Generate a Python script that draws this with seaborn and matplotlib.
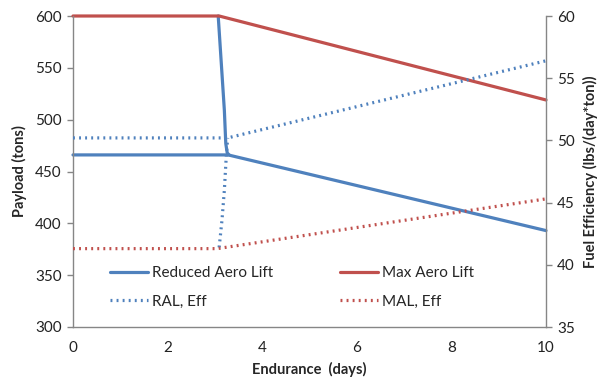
import pandas as pd
import matplotlib
matplotlib.use("Agg")
import matplotlib.pyplot as plt
import seaborn as sns

# Reduced Aero Lift payload (tons)
ral_days = [0, 3.28, 10]
ral_payload = [466, 466, 393]
ral_drop_days = [3.07, 3.14, 3.20, 3.23, 3.26, 3.30]
ral_drop_payload = [600, 551, 509, 477, 468, 466]

# Max Aero Lift payload (tons)
mal_days = [0, 3.09, 10]
mal_payload = [600, 600, 519]

# fuel efficiency (lbs/(day*ton))
ral_eff_days = [0, 3.27, 10]
ral_eff = [50.2, 50.2, 56.4]
ral_eff_rise_days = [3.09, 3.15, 3.20, 3.24, 3.27]
ral_eff_rise = [41.4, 43.6, 46.0, 48.7, 50.2]
mal_eff_days = [0, 3.05, 10]
mal_eff = [41.3, 41.3, 45.3]

blue = "#4F81BD"
red = "#C0504D"
grey = "#868686"

sns.set_style("white")
plt.rcParams['font.family'] = ['Lato', 'DejaVu Sans']

fig = plt.figure(figsize=(6.1, 3.83), dpi=100)
ax = fig.add_axes([73/610, 1-327/383, 473/610, 311/383])
ax2 = ax.twinx()

lw = 2.3
dots = (0, (0.6, 1.3))
sns.lineplot(x=ral_days, y=ral_payload, ax=ax, color=blue, lw=lw, sort=False, estimator=None, label="Reduced Aero Lift")
sns.lineplot(x=ral_drop_days, y=ral_drop_payload, ax=ax, color=blue, lw=lw, sort=False, estimator=None)
sns.lineplot(x=mal_days, y=mal_payload, ax=ax, color=red, lw=lw, sort=False, estimator=None, label="Max Aero Lift")

sns.lineplot(x=ral_eff_days, y=ral_eff, ax=ax2, color=blue, lw=lw, ls=dots, sort=False, estimator=None, label="RAL, Eff")
sns.lineplot(x=ral_eff_rise_days, y=ral_eff_rise, ax=ax2, color=blue, lw=lw, ls=dots, sort=False, estimator=None)
sns.lineplot(x=mal_eff_days, y=mal_eff, ax=ax2, color=red, lw=lw, ls=dots, sort=False, estimator=None, label="MAL, Eff")

for a in (ax, ax2):
    for ln in a.get_lines():
        ln.set_clip_on(False)

ax.set_xlim(0, 10)
ax.set_ylim(300, 600)
ax2.set_ylim(35, 60)
ax.set_xticks(range(0, 11, 2))
ax.set_yticks(range(300, 601, 50))
ax2.set_yticks(range(35, 61, 5))

for a in (ax, ax2):
    for s in a.spines.values():
        s.set_color(grey)
        s.set_linewidth(1)
    a.spines['top'].set_visible(False)
    a.tick_params(colors=grey, labelcolor="#222222", labelsize=11, length=4, width=1)
ax.spines['right'].set_visible(False)
ax2.spines['left'].set_visible(False)
ax2.spines['bottom'].set_visible(False)
ax.tick_params(axis='x', direction='out', pad=6)
ax.tick_params(axis='y', direction='out', pad=4)
ax2.tick_params(axis='y', direction='out', pad=4)

ax.set_xlabel("Endurance  (days)", fontsize=10.5, fontweight='bold', labelpad=5)
ax.set_ylabel("Payload (tons)", fontsize=10.5, fontweight='bold', labelpad=6)
ax2.set_ylabel("Fuel Efficiency (lbs/(day*ton))", fontsize=10.5, fontweight='bold', labelpad=6)

h1, l1 = ax.get_legend_handles_labels()
h2, l2 = ax2.get_legend_handles_labels()
ax.get_legend().remove()
ax2.get_legend().remove()
# column-major fill: first column Reduced / RAL, second Max / MAL
handles = [h1[0], h2[0], h1[1], h2[1]]
labels = [l1[0], l2[0], l1[1], l2[1]]
ax2.legend(handles, labels, ncol=2, loc='center', bbox_to_anchor=(0.463, 0.127),
           frameon=False, fontsize=11, handlelength=2.5, handletextpad=0.25,
           columnspacing=4.4, labelspacing=0.95)

fig.savefig("out.png", dpi=100)
